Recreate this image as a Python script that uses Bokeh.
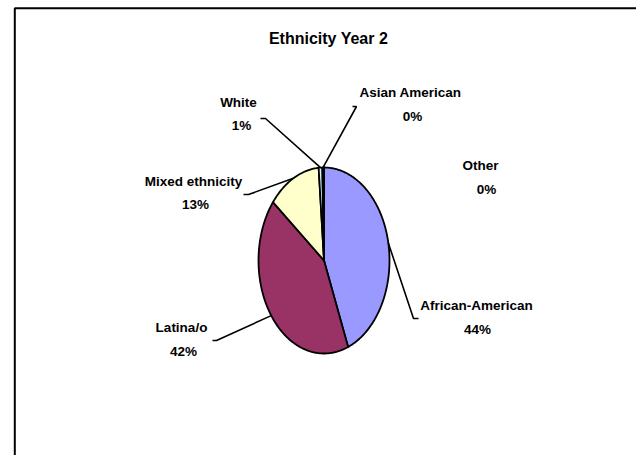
import numpy as np
from bokeh.plotting import figure
from bokeh.models import Range1d, ColumnDataSource
from bokeh.core.properties import value
from bokeh.embed import file_html
from bokeh.resources import INLINE

# ---- data ----
title = "Ethnicity Year 2"
categories = ["African-American", "Latina/o", "Mixed ethnicity", "White", "Asian American", "Other"]
shares = [44.0, 41.8, 12.9, 0.9, 0.3, 0.1]
colors = ["#9999FF", "#993366", "#FFFFCC", "#CCFFFF", "#660066", "#FF8080"]

# ---- layout (screen pixels, y downward) ----
W, H = 636, 455
cx, cy, rx, ry = 323.5, 260.0, 65.5, 93.0
# label name centre, percent centre, leader stub (inner, outer) or None
label_layout = {
    "African-American": dict(name=(476, 305), pct=(477, 329), stub=((413, 318), (418, 318))),
    "Latina/o": dict(name=(181, 327), pct=(183, 351), stub=((216, 340), (212, 340))),
    "Mixed ethnicity": dict(name=(193, 181), pct=(195, 204), stub=((248, 194), (243, 194))),
    "White": dict(name=(238, 102), pct=(241, 125), stub=((265, 118), (260, 118))),
    "Asian American": dict(name=(410, 92), pct=(412, 116), stub=((356, 106), (352, 106))),
    "Other": dict(name=(480, 165), pct=(486, 189), stub=None),
}
FONT = "Liberation Sans"

p = figure(width=W, height=H, x_range=Range1d(0, W), y_range=Range1d(H, 0),
           output_backend="svg", toolbar_location=None, min_border=0)
p.axis.visible = False
p.grid.visible = False
p.outline_line_color = None
p.background_fill_color = "white"
p.border_fill_color = "white"

# chart-area frame (runs off the right/bottom of the window)
p.quad(left=[14.3], right=[W + 50], top=[7.7], bottom=[H + 50],
       fill_color=None, line_color="black", line_width=2)

# slices: angles clockwise from 12 o'clock on an ellipse
vals = np.array(shares, dtype=float)
fr = vals / vals.sum()
ends = np.cumsum(fr) * 2 * np.pi
starts = ends - fr * 2 * np.pi
xs, ys = [], []
for a0, a1 in zip(starts, ends):
    n = max(3, int(np.ceil((a1 - a0) / (2 * np.pi) * 400)))
    t = np.linspace(a0, a1, n)
    xs.append([cx] + list(cx + rx * np.sin(t)) + [cx])
    ys.append([cy] + list(cy - ry * np.cos(t)) + [cy])
src = ColumnDataSource(dict(xs=xs, ys=ys, color=colors, cat=categories))
p.patches("xs", "ys", source=src, fill_color="color", line_color="black",
          line_width=1.8, line_join="round")

# leader lines from slice mid-points to labels
lx, ly = [], []
mids = (starts + ends) / 2
for cat, m in zip(categories, mids):
    stub = label_layout[cat]["stub"]
    if stub is None:
        continue
    ex, ey = cx + rx * np.sin(m), cy - ry * np.cos(m)
    lx.append([ex, stub[0][0], stub[1][0]])
    ly.append([ey, stub[0][1], stub[1][1]])
p.multi_line(lx, ly, line_color="black", line_width=1.6)

# labels
names_x = [label_layout[c]["name"][0] for c in categories]
names_y = [label_layout[c]["name"][1] for c in categories]
pct_x = [label_layout[c]["pct"][0] for c in categories]
pct_y = [label_layout[c]["pct"][1] for c in categories]
pct_txt = [f"{int(round(v))}%" for v in fr * 100]
p.text(names_x, names_y, text=categories, text_font=value(FONT), text_font_style="bold",
       text_font_size="13.5px", text_align="center", text_baseline="middle", text_color="black")
p.text(pct_x, pct_y, text=pct_txt, text_font=value(FONT), text_font_style="bold",
       text_font_size="13.5px", text_align="center", text_baseline="middle", text_color="black")
p.text([328], [38], text=[title], text_font=value(FONT), text_font_style="bold",
       text_font_size="16px", text_align="center", text_baseline="middle", text_color="black")

open("out.html", "w").write(file_html(p, INLINE))
